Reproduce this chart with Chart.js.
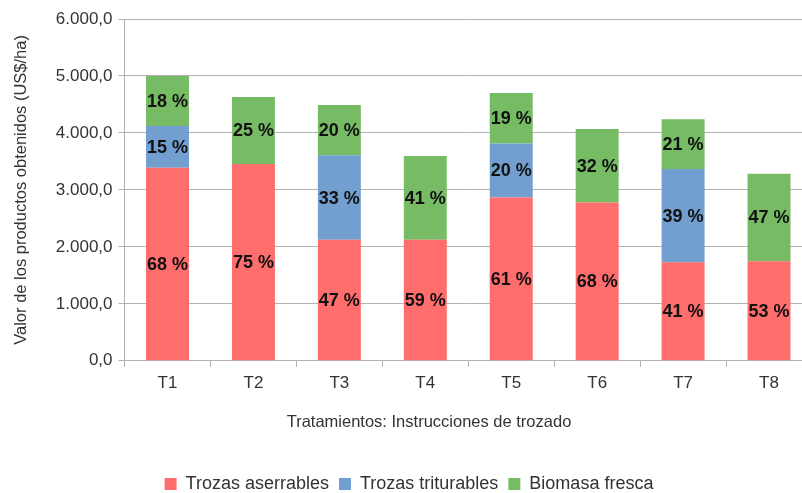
<!DOCTYPE html>
<html>
<head>
<meta charset="utf-8">
<script src="https://cdn.jsdelivr.net/npm/chart.js@4/dist/chart.umd.min.js"></script>
<style>
  html, body { margin: 0; padding: 0; background: #fff; overflow: hidden; }
  #wrap { width: 812px; height: 503px; position: relative; }
</style>
</head>
<body>
<div id="wrap"><canvas id="myChart"></canvas></div>
<script>
const categorias = ['T1', 'T2', 'T3', 'T4', 'T5', 'T6', 'T7', 'T8'];
const trozasAserrables = [3390, 3455, 2124, 2124, 2868, 2780, 1730, 1747];
const trozasTriturables = [730, 0, 1483, 0, 945, 0, 1636, 0];
const biomasaFresca = [880, 1175, 883, 1471, 887, 1290, 874, 1538];
const tituloX = 'Tratamientos: Instrucciones de trozado';
const tituloY = 'Valor de los productos obtenidos (US$/ha)';

const textColor = '#333333';
const gridColor = '#b3b3b3';
const fontFamily = '"Liberation Sans", Arial, sans-serif';

function formatoNumero(v) {
   const entero = Math.floor(v).toString().replace(/\B(?=(\d{3})+(?!\d))/g, '.');
   return entero + ',0';
}

// etiquetas de porcentaje centradas en cada segmento
const porcentajes = {
   id: 'porcentajes',
   afterDatasetsDraw(chart) {
      const ctx = chart.ctx;
      const sets = chart.data.datasets;
      ctx.save();
      ctx.font = 'bold 18px ' + fontFamily;
      ctx.fillStyle = '#111111';
      ctx.textAlign = 'center';
      ctx.textBaseline = 'middle';
      sets.forEach((ds, i) => {
         const meta = chart.getDatasetMeta(i);
         meta.data.forEach((bar, j) => {
            const v = ds.data[j];
            if (!v) return;
            const total = sets.reduce((s, d) => s + d.data[j], 0);
            const pct = Math.round(v / total * 100);
            ctx.fillText(pct + ' %', bar.x, (bar.y + bar.base) / 2 + 1);
         });
      });
      ctx.restore();
   }
};

// titulo del eje X (centrado como en el grafico original)
const tituloEjeX = {
   id: 'tituloEjeX',
   afterDraw(chart) {
      const ctx = chart.ctx;
      ctx.save();
      ctx.font = '16.5px ' + fontFamily;
      ctx.fillStyle = textColor;
      ctx.textAlign = 'center';
      ctx.textBaseline = 'middle';
      ctx.fillText(tituloX, (chart.width + 46) / 2, chart.chartArea.bottom + 62);
      ctx.restore();
   }
};

const ctx = document.getElementById('myChart').getContext('2d');
const myChart = new Chart(ctx, {
   type: 'bar',
   data: {
      labels: categorias,
      datasets: [{
         label: 'Trozas aserrables',
         data: trozasAserrables,
         backgroundColor: '#ff6d6d'
      },
      {
         label: 'Trozas triturables',
         data: trozasTriturables,
         backgroundColor: '#729fcf'
      },
      {
         label: 'Biomasa fresca',
         data: biomasaFresca,
         backgroundColor: '#77bc65'
      }]
   },
   options: {
      responsive: true,
      maintainAspectRatio: false,
      animation: false,
      categoryPercentage: 0.5,
      barPercentage: 1,
      layout: {
         padding: { top: 19, left: 6, right: 0, bottom: 0 }
      },
      plugins: {
         tooltip: { enabled: false },
         legend: {
            display: true,
            position: 'bottom',
            labels: {
               color: textColor,
               boxWidth: 12,
               boxHeight: 12,
               padding: 10,
               font: { size: 18, family: fontFamily }
            }
         }
      },
      scales: {
         x: {
            stacked: true,
            grid: {
               display: true,
               drawOnChartArea: false,
               color: gridColor,
               tickLength: 6
            },
            border: { color: gridColor },
            ticks: {
               color: textColor,
               padding: 6,
               font: { size: 17, family: fontFamily }
            },
            title: {
               display: true,
               text: '',
               font: { size: 16.5, family: fontFamily },
               padding: { top: 10, bottom: 36 }
            }
         },
         y: {
            stacked: true,
            min: 0,
            max: 6000,
            grid: {
               color: gridColor,
               tickLength: 6
            },
            border: { color: gridColor },
            ticks: {
               stepSize: 1000,
               color: textColor,
               padding: 6,
               font: { size: 17, family: fontFamily },
               callback: v => formatoNumero(v)
            },
            title: {
               display: true,
               text: tituloY,
               color: textColor,
               font: { size: 16.5, family: fontFamily },
               padding: { top: 6, bottom: 18 }
            }
         }
      }
   },
   plugins: [porcentajes, tituloEjeX]
});
</script>
</body>
</html>
